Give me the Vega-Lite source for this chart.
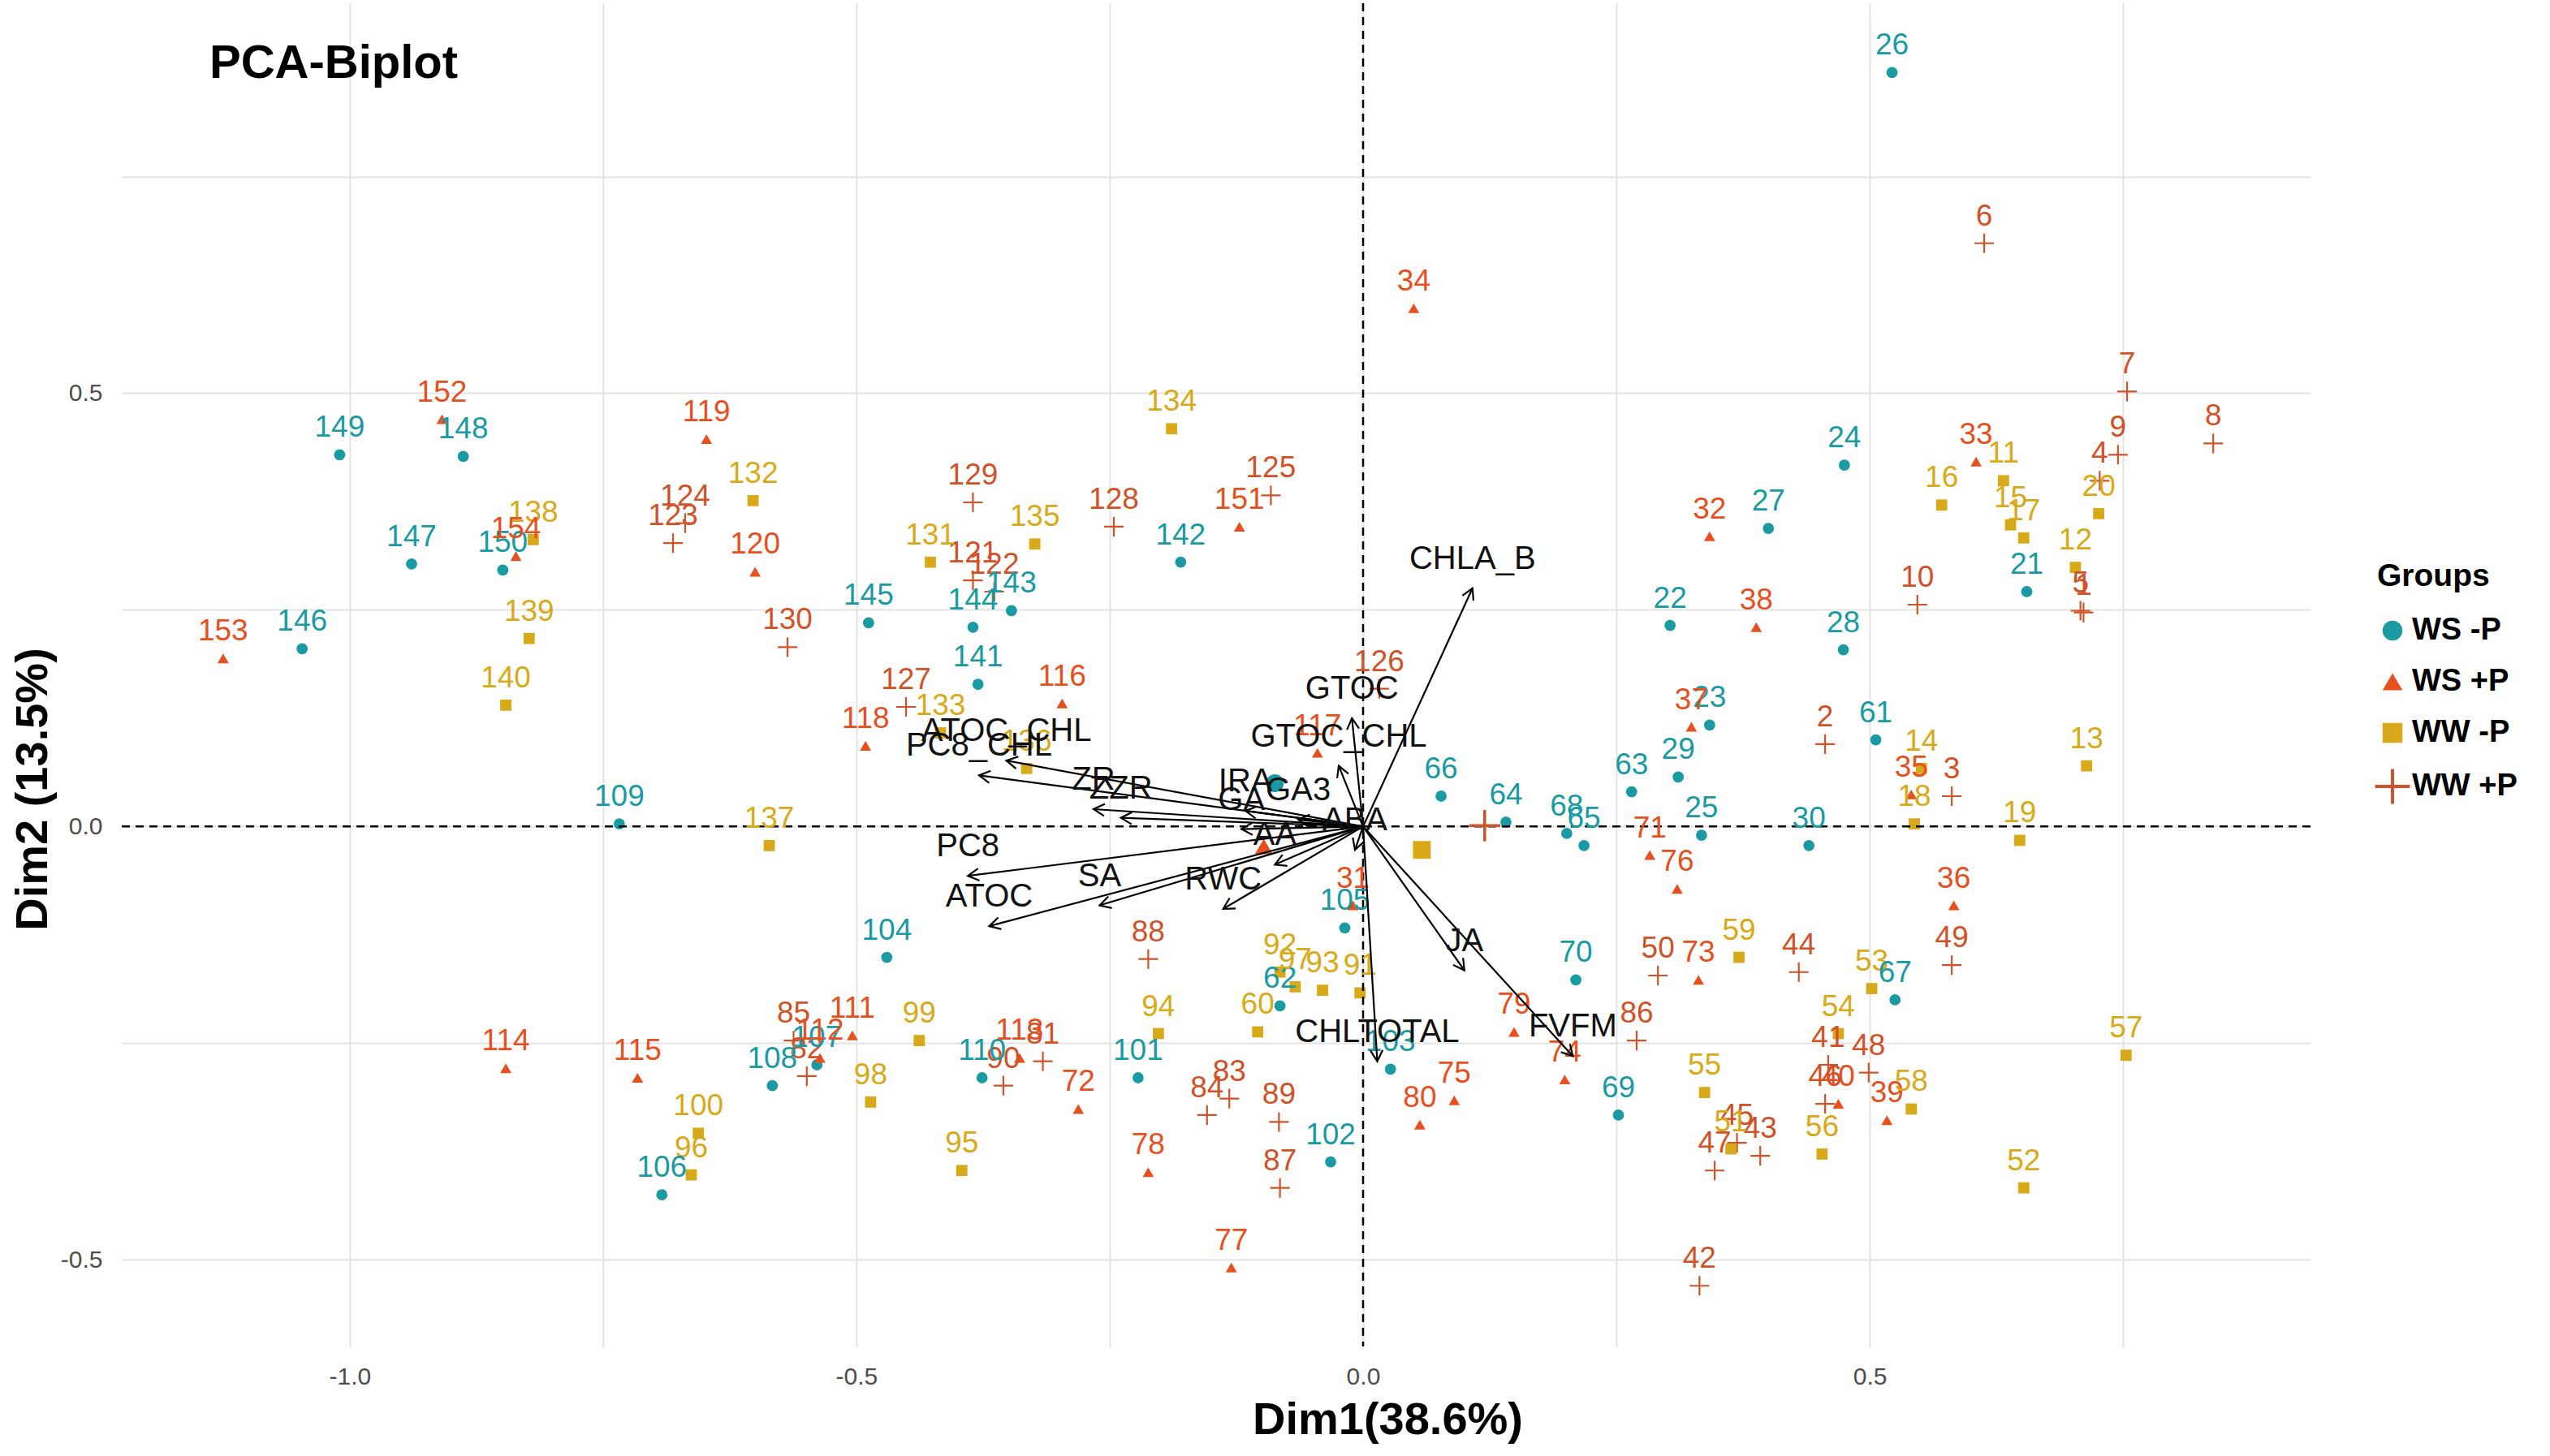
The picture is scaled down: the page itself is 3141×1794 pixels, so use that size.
{
"$schema": "https://vega.github.io/schema/vega-lite/v6.json",
"width": 2696,
"height": 1655,
"autosize": {"type": "none"},
"padding": {"left": 150, "top": 4, "right": 295, "bottom": 135},
"background": "white",
"title": {"text": "PCA-Biplot", "anchor": "start", "frame": "group", "orient": "top", "offset": -134, "dx": 108, "baseline": "middle", "fontSize": 58, "fontWeight": "bold", "color": "black", "font": "Liberation Sans"},
"config": {
  "font": "Liberation Sans",
  "view": {"stroke": null},
  "axis": {"gridColor": "#e3e3e3", "gridWidth": 2, "domain": false, "ticks": false},
  "legend": {"titleFontSize": 39, "titleFontWeight": "bold", "titleColor": "black", "labelFontSize": 38, "labelFontWeight": "bold", "labelColor": "black", "symbolSize": 600, "rowPadding": 25, "labelOffset": 5, "titlePadding": 28, "padding": 0}
},
"datasets": {
"obs": [
{"id":"1","g":"WW +P","x":0.711,"y":0.247},
{"id":"2","g":"WW +P","x":0.456,"y":0.095},
{"id":"3","g":"WW +P","x":0.581,"y":0.035},
{"id":"4","g":"WW +P","x":0.727,"y":0.399},
{"id":"5","g":"WW +P","x":0.708,"y":0.249},
{"id":"6","g":"WW +P","x":0.613,"y":0.673},
{"id":"7","g":"WW +P","x":0.754,"y":0.502},
{"id":"8","g":"WW +P","x":0.839,"y":0.442},
{"id":"9","g":"WW +P","x":0.745,"y":0.429},
{"id":"10","g":"WW +P","x":0.547,"y":0.256},
{"id":"11","g":"WW -P","x":0.632,"y":0.399},
{"id":"12","g":"WW -P","x":0.703,"y":0.299},
{"id":"13","g":"WW -P","x":0.714,"y":0.070},
{"id":"14","g":"WW -P","x":0.551,"y":0.067},
{"id":"15","g":"WW -P","x":0.639,"y":0.348},
{"id":"16","g":"WW -P","x":0.571,"y":0.371},
{"id":"17","g":"WW -P","x":0.652,"y":0.333},
{"id":"18","g":"WW -P","x":0.544,"y":0.003},
{"id":"19","g":"WW -P","x":0.648,"y":-0.016},
{"id":"20","g":"WW -P","x":0.726,"y":0.361},
{"id":"21","g":"WS -P","x":0.655,"y":0.271},
{"id":"22","g":"WS -P","x":0.303,"y":0.232},
{"id":"23","g":"WS -P","x":0.342,"y":0.117},
{"id":"24","g":"WS -P","x":0.475,"y":0.417},
{"id":"25","g":"WS -P","x":0.334,"y":-0.010},
{"id":"26","g":"WS -P","x":0.522,"y":0.870},
{"id":"27","g":"WS -P","x":0.400,"y":0.344},
{"id":"28","g":"WS -P","x":0.474,"y":0.204},
{"id":"29","g":"WS -P","x":0.311,"y":0.057},
{"id":"30","g":"WS -P","x":0.440,"y":-0.022},
{"id":"31","g":"WS +P","x":-0.010,"y":-0.091},
{"id":"32","g":"WS +P","x":0.342,"y":0.335},
{"id":"33","g":"WS +P","x":0.605,"y":0.421},
{"id":"34","g":"WS +P","x":0.050,"y":0.598},
{"id":"35","g":"WS +P","x":0.541,"y":0.037},
{"id":"36","g":"WS +P","x":0.583,"y":-0.091},
{"id":"37","g":"WS +P","x":0.324,"y":0.115},
{"id":"38","g":"WS +P","x":0.388,"y":0.230},
{"id":"39","g":"WS +P","x":0.517,"y":-0.339},
{"id":"40","g":"WS +P","x":0.469,"y":-0.320},
{"id":"41","g":"WW +P","x":0.459,"y":-0.275},
{"id":"42","g":"WW +P","x":0.332,"y":-0.530},
{"id":"43","g":"WW +P","x":0.392,"y":-0.380},
{"id":"44","g":"WW +P","x":0.430,"y":-0.168},
{"id":"45","g":"WW +P","x":0.369,"y":-0.365},
{"id":"46","g":"WW +P","x":0.456,"y":-0.320},
{"id":"47","g":"WW +P","x":0.347,"y":-0.397},
{"id":"48","g":"WW +P","x":0.499,"y":-0.284},
{"id":"49","g":"WW +P","x":0.581,"y":-0.160},
{"id":"50","g":"WW +P","x":0.291,"y":-0.172},
{"id":"51","g":"WW -P","x":0.363,"y":-0.372},
{"id":"52","g":"WW -P","x":0.652,"y":-0.417},
{"id":"53","g":"WW -P","x":0.502,"y":-0.187},
{"id":"54","g":"WW -P","x":0.469,"y":-0.239},
{"id":"55","g":"WW -P","x":0.337,"y":-0.307},
{"id":"56","g":"WW -P","x":0.453,"y":-0.378},
{"id":"57","g":"WW -P","x":0.753,"y":-0.264},
{"id":"58","g":"WW -P","x":0.541,"y":-0.326},
{"id":"59","g":"WW -P","x":0.371,"y":-0.151},
{"id":"60","g":"WW -P","x":-0.104,"y":-0.237},
{"id":"61","g":"WS -P","x":0.506,"y":0.100},
{"id":"62","g":"WS -P","x":-0.082,"y":-0.207},
{"id":"63","g":"WS -P","x":0.265,"y":0.040},
{"id":"64","g":"WS -P","x":0.141,"y":0.005},
{"id":"65","g":"WS -P","x":0.218,"y":-0.022},
{"id":"66","g":"WS -P","x":0.077,"y":0.035},
{"id":"67","g":"WS -P","x":0.525,"y":-0.200},
{"id":"68","g":"WS -P","x":0.201,"y":-0.008},
{"id":"69","g":"WS -P","x":0.252,"y":-0.333},
{"id":"70","g":"WS -P","x":0.210,"y":-0.177},
{"id":"71","g":"WS +P","x":0.283,"y":-0.033},
{"id":"72","g":"WS +P","x":-0.281,"y":-0.326},
{"id":"73","g":"WS +P","x":0.331,"y":-0.177},
{"id":"74","g":"WS +P","x":0.199,"y":-0.292},
{"id":"75","g":"WS +P","x":0.090,"y":-0.316},
{"id":"76","g":"WS +P","x":0.310,"y":-0.072},
{"id":"77","g":"WS +P","x":-0.130,"y":-0.509},
{"id":"78","g":"WS +P","x":-0.212,"y":-0.399},
{"id":"79","g":"WS +P","x":0.149,"y":-0.237},
{"id":"80","g":"WS +P","x":0.056,"y":-0.344},
{"id":"81","g":"WW +P","x":-0.316,"y":-0.271},
{"id":"82","g":"WW +P","x":-0.549,"y":-0.288},
{"id":"83","g":"WW +P","x":-0.132,"y":-0.314},
{"id":"84","g":"WW +P","x":-0.154,"y":-0.333},
{"id":"85","g":"WW +P","x":-0.562,"y":-0.247},
{"id":"86","g":"WW +P","x":0.270,"y":-0.247},
{"id":"87","g":"WW +P","x":-0.082,"y":-0.417},
{"id":"88","g":"WW +P","x":-0.212,"y":-0.153},
{"id":"89","g":"WW +P","x":-0.083,"y":-0.341},
{"id":"90","g":"WW +P","x":-0.355,"y":-0.299},
{"id":"91","g":"WW -P","x":-0.003,"y":-0.192},
{"id":"92","g":"WW -P","x":-0.082,"y":-0.168},
{"id":"93","g":"WW -P","x":-0.040,"y":-0.189},
{"id":"94","g":"WW -P","x":-0.202,"y":-0.239},
{"id":"95","g":"WW -P","x":-0.396,"y":-0.397},
{"id":"96","g":"WW -P","x":-0.663,"y":-0.402},
{"id":"97","g":"WW -P","x":-0.067,"y":-0.185},
{"id":"98","g":"WW -P","x":-0.486,"y":-0.318},
{"id":"99","g":"WW -P","x":-0.438,"y":-0.247},
{"id":"100","g":"WW -P","x":-0.656,"y":-0.354},
{"id":"101","g":"WS -P","x":-0.222,"y":-0.290},
{"id":"102","g":"WS -P","x":-0.032,"y":-0.387},
{"id":"103","g":"WS -P","x":0.027,"y":-0.280},
{"id":"104","g":"WS -P","x":-0.470,"y":-0.151},
{"id":"105","g":"WS -P","x":-0.018,"y":-0.117},
{"id":"106","g":"WS -P","x":-0.692,"y":-0.425},
{"id":"107","g":"WS -P","x":-0.539,"y":-0.275},
{"id":"108","g":"WS -P","x":-0.583,"y":-0.299},
{"id":"109","g":"WS -P","x":-0.734,"y":0.003},
{"id":"110","g":"WS -P","x":-0.376,"y":-0.290},
{"id":"111","g":"WS +P","x":-0.504,"y":-0.241},
{"id":"112","g":"WS +P","x":-0.536,"y":-0.267},
{"id":"113","g":"WS +P","x":-0.339,"y":-0.267},
{"id":"114","g":"WS +P","x":-0.846,"y":-0.279},
{"id":"115","g":"WS +P","x":-0.716,"y":-0.290},
{"id":"116","g":"WS +P","x":-0.297,"y":0.142},
{"id":"117","g":"WS +P","x":-0.045,"y":0.085},
{"id":"118","g":"WS +P","x":-0.491,"y":0.093},
{"id":"119","g":"WS +P","x":-0.648,"y":0.447},
{"id":"120","g":"WS +P","x":-0.600,"y":0.294},
{"id":"121","g":"WW +P","x":-0.385,"y":0.284},
{"id":"122","g":"WW +P","x":-0.364,"y":0.271},
{"id":"123","g":"WW +P","x":-0.681,"y":0.327},
{"id":"124","g":"WW +P","x":-0.669,"y":0.350},
{"id":"125","g":"WW +P","x":-0.091,"y":0.382},
{"id":"126","g":"WW +P","x":0.016,"y":0.159},
{"id":"127","g":"WW +P","x":-0.451,"y":0.138},
{"id":"128","g":"WW +P","x":-0.246,"y":0.346},
{"id":"129","g":"WW +P","x":-0.385,"y":0.374},
{"id":"130","g":"WW +P","x":-0.568,"y":0.207},
{"id":"131","g":"WW -P","x":-0.427,"y":0.305},
{"id":"132","g":"WW -P","x":-0.602,"y":0.376},
{"id":"133","g":"WW -P","x":-0.417,"y":0.108},
{"id":"134","g":"WW -P","x":-0.189,"y":0.459},
{"id":"135","g":"WW -P","x":-0.324,"y":0.326},
{"id":"136","g":"WW -P","x":-0.332,"y":0.067},
{"id":"137","g":"WW -P","x":-0.586,"y":-0.022},
{"id":"138","g":"WW -P","x":-0.819,"y":0.331},
{"id":"139","g":"WW -P","x":-0.823,"y":0.217},
{"id":"140","g":"WW -P","x":-0.846,"y":0.140},
{"id":"141","g":"WS -P","x":-0.380,"y":0.164},
{"id":"142","g":"WS -P","x":-0.180,"y":0.305},
{"id":"143","g":"WS -P","x":-0.347,"y":0.249},
{"id":"144","g":"WS -P","x":-0.385,"y":0.230},
{"id":"145","g":"WS -P","x":-0.488,"y":0.235},
{"id":"146","g":"WS -P","x":-1.047,"y":0.205},
{"id":"147","g":"WS -P","x":-0.939,"y":0.303},
{"id":"148","g":"WS -P","x":-0.888,"y":0.427},
{"id":"149","g":"WS -P","x":-1.010,"y":0.429},
{"id":"150","g":"WS -P","x":-0.849,"y":0.296},
{"id":"151","g":"WS +P","x":-0.122,"y":0.346},
{"id":"152","g":"WS +P","x":-0.909,"y":0.470},
{"id":"153","g":"WS +P","x":-1.125,"y":0.194},
{"id":"154","g":"WS +P","x":-0.836,"y":0.312}
],
"means": [
{"g":"WS -P","x":-0.087,"y":0.050},
{"g":"WS +P","x":-0.098,"y":-0.023},
{"g":"WW -P","x":0.058,"y":-0.027},
{"g":"WW +P","x":0.120,"y":0.001}
],
"vars": [
{"v":"CHLA_B","x":0.108,"y":0.275},
{"v":"GTOC","x":-0.011,"y":0.125},
{"v":"GTOC_CHL","x":-0.024,"y":0.070},
{"v":"ATOC_CHL","x":-0.352,"y":0.076},
{"v":"PC8_CHL","x":-0.379,"y":0.059},
{"v":"ZR","x":-0.266,"y":0.020},
{"v":"ZZR","x":-0.239,"y":0.010},
{"v":"IRA","x":-0.116,"y":0.018},
{"v":"GA3","x":-0.064,"y":0.008},
{"v":"GA","x":-0.120,"y":-0.003},
{"v":"ABA","x":-0.008,"y":-0.027},
{"v":"AA","x":-0.087,"y":-0.044},
{"v":"PC8","x":-0.390,"y":-0.057},
{"v":"ATOC","x":-0.369,"y":-0.115},
{"v":"SA","x":-0.260,"y":-0.091},
{"v":"RWC","x":-0.138,"y":-0.095},
{"v":"CHLTOTAL","x":0.014,"y":-0.271},
{"v":"JA","x":0.100,"y":-0.166},
{"v":"FVFM","x":0.207,"y":-0.265}
]
},
"layer": [
{
  "data": {"name": "obs"},
  "mark": {"type": "point", "filled": true, "size": 190, "opacity": 1},
  "encoding": {
    "x": {"field": "x", "type": "quantitative",
      "scale": {"domain": [-1.225, 0.935], "nice": false, "zero": false},
      "axis": {"values": [-1, -0.75, -0.5, -0.25, 0, 0.25, 0.5, 0.75],
        "labelExpr": "datum.value == -1 ? '-1.0' : datum.value == -0.5 ? '-0.5' : datum.value == 0 ? '0.0' : datum.value == 0.5 ? '0.5' : ''",
        "labelFontSize": 30, "labelColor": "#4d4d4d", "labelPadding": 22,
        "title": "Dim1(38.6%)", "titleFontSize": 56, "titleFontWeight": "bold", "titleColor": "black",
        "titleX": 1559, "titleY": 90, "titleAlign": "center", "titleBaseline": "middle"}},
    "y": {"field": "y", "type": "quantitative",
      "scale": {"domain": [-0.6, 0.95], "nice": false, "zero": false},
      "axis": {"values": [-0.5, -0.25, 0, 0.25, 0.5, 0.75],
        "labelExpr": "datum.value == -0.5 ? '-0.5' : datum.value == 0 ? '0.0' : datum.value == 0.5 ? '0.5' : ''",
        "labelFontSize": 30, "labelColor": "#4d4d4d", "labelPadding": 24,
        "title": "Dim2 (13.5%)", "titleFontSize": 56, "titleFontWeight": "bold", "titleColor": "black",
        "titleX": -110, "titleY": 968, "titleAngle": 270, "titleAlign": "center", "titleBaseline": "middle"}},
    "color": {"field": "g", "type": "nominal",
      "scale": {"domain": ["WS -P", "WS +P", "WW -P", "WW +P"], "range": ["#1A9AA3", "#E6501E", "#D8AA19", "#CF5229"]},
      "legend": {"title": "Groups", "orient": "none", "legendX": 2778, "legendY": 687}},
    "shape": {"field": "g", "type": "nominal",
      "scale": {"domain": ["WS -P", "WS +P", "WW -P", "WW +P"], "range": ["circle", "triangle-up", "square", "M-1.75,-0.16H1.75V0.16H-1.75Z M-0.16,-1.75H0.16V1.75H-0.16Z"]},
      "legend": {"title": "Groups", "orient": "none", "legendX": 2778, "legendY": 687}}
  }
},
{
  "data": {"values": [{}]},
  "mark": {"type": "rule", "color": "black", "strokeWidth": 2.5, "strokeDash": [10, 7]},
  "encoding": {"x": {"datum": 0, "type": "quantitative"}}
},
{
  "data": {"values": [{}]},
  "mark": {"type": "rule", "color": "black", "strokeWidth": 2.5, "strokeDash": [10, 7]},
  "encoding": {"y": {"datum": 0, "type": "quantitative"}}
},
{
  "data": {"name": "obs"},
  "mark": {"type": "text", "fontSize": 37, "baseline": "alphabetic", "align": "center", "dy": -22},
  "encoding": {
    "x": {"field": "x", "type": "quantitative"},
    "y": {"field": "y", "type": "quantitative"},
    "text": {"field": "id"},
    "color": {"field": "g", "type": "nominal", "legend": null}
  }
},
{
  "data": {"name": "means"},
  "mark": {"type": "point", "filled": true, "size": 480, "opacity": 1},
  "encoding": {
    "x": {"field": "x", "type": "quantitative"},
    "y": {"field": "y", "type": "quantitative"},
    "color": {"field": "g", "type": "nominal", "legend": null},
    "shape": {"field": "g", "type": "nominal", "legend": null}
  }
},
{
  "data": {"name": "vars"},
  "mark": {"type": "rule", "color": "black", "strokeWidth": 2.2},
  "encoding": {
    "x": {"field": "x", "type": "quantitative"},
    "y": {"field": "y", "type": "quantitative"},
    "x2": {"datum": 0},
    "y2": {"datum": 0}
  }
},
{
  "data": {"name": "vars"},
  "transform": [{"calculate": "atan2(datum.x*1248, datum.y*1067.7)*180/PI", "as": "ang"}],
  "mark": {"type": "point", "shape": "M-0.5,0.9L0,0L0.5,0.9", "filled": false, "stroke": "black", "strokeWidth": 2.2, "size": 900, "opacity": 1},
  "encoding": {
    "x": {"field": "x", "type": "quantitative"},
    "y": {"field": "y", "type": "quantitative"},
    "angle": {"field": "ang", "type": "quantitative", "scale": null}
  }
},
{
  "data": {"name": "vars"},
  "mark": {"type": "text", "fontSize": 40, "baseline": "alphabetic", "align": "center", "dy": -24, "color": "#111111"},
  "encoding": {
    "x": {"field": "x", "type": "quantitative"},
    "y": {"field": "y", "type": "quantitative"},
    "text": {"field": "v"}
  }
}
]
}
